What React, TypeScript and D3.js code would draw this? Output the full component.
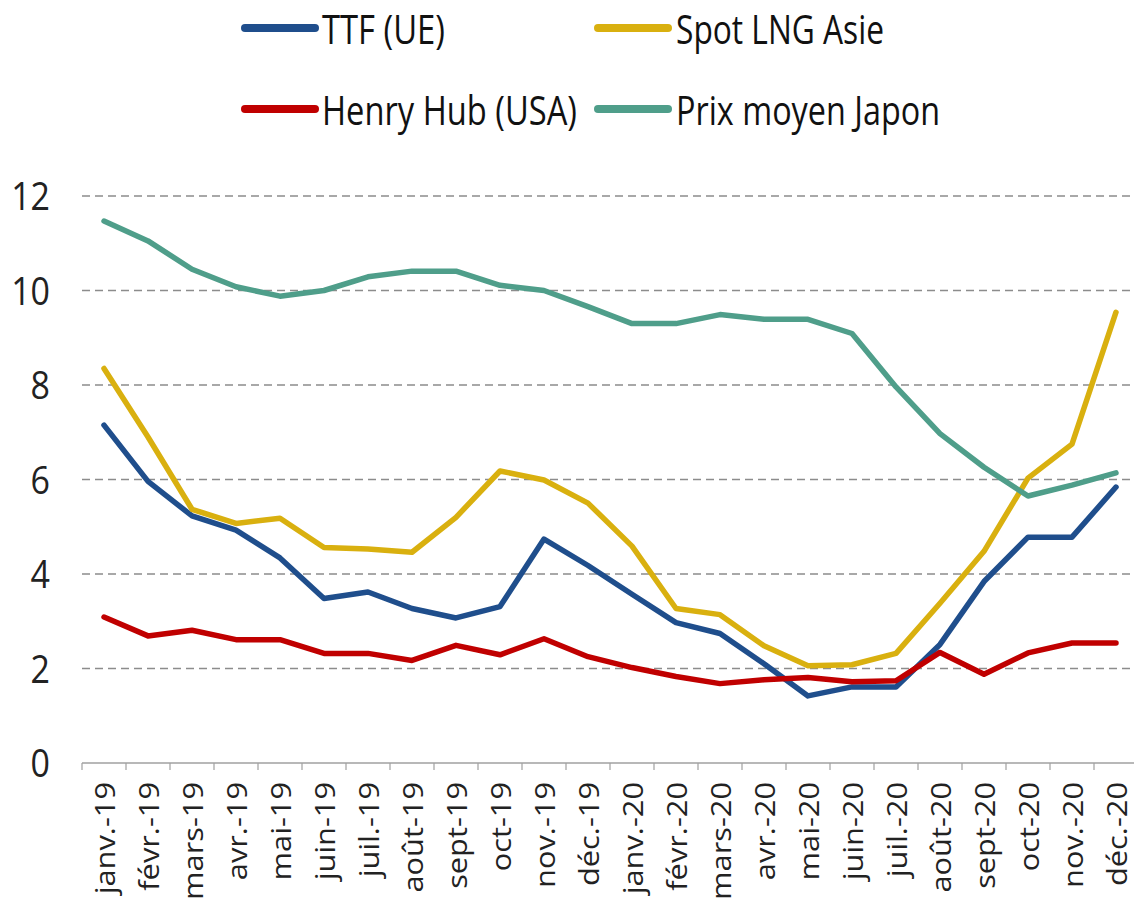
import React from 'react';
import * as d3 from 'd3';

const months = [
  'janv.-19', 'févr.-19', 'mars-19', 'avr.-19', 'mai-19', 'juin-19',
  'juil.-19', 'août-19', 'sept-19', 'oct-19', 'nov.-19', 'déc.-19',
  'janv.-20', 'févr.-20', 'mars-20', 'avr.-20', 'mai-20', 'juin-20',
  'juil.-20', 'août-20', 'sept-20', 'oct-20', 'nov.-20', 'déc.-20',
];

const ttf = [7.15, 5.96, 5.23, 4.93, 4.34, 3.48, 3.62, 3.27, 3.07, 3.31, 4.74, 4.18,
  3.57, 2.97, 2.74, 2.1, 1.42, 1.61, 1.61, 2.51, 3.84, 4.78, 4.78, 5.84];
const spotLng = [8.35, 6.9, 5.37, 5.07, 5.18, 4.56, 4.53, 4.46, 5.2, 6.18, 5.99, 5.5,
  4.59, 3.27, 3.14, 2.48, 2.06, 2.08, 2.32, 3.38, 4.48, 6.03, 6.75, 9.54];
const henryHub = [3.09, 2.69, 2.81, 2.61, 2.61, 2.32, 2.32, 2.17, 2.49, 2.29, 2.63, 2.25,
  2.02, 1.83, 1.68, 1.76, 1.81, 1.72, 1.74, 2.34, 1.88, 2.33, 2.54, 2.54];
const japon = [11.47, 11.05, 10.45, 10.08, 9.88, 10.0, 10.29, 10.41, 10.41, 10.11, 10.0, 9.66,
  9.3, 9.3, 9.49, 9.39, 9.39, 9.09, 7.96, 6.97, 6.26, 5.65, 5.88, 6.14];

const yTicks = [0, 2, 4, 6, 8, 10, 12];

const series = [
  { name: 'TTF (UE)', values: ttf, color: '#1f4e8c' },
  { name: 'Spot LNG Asie', values: spotLng, color: '#d9b00f' },
  { name: 'Henry Hub (USA)', values: henryHub, color: '#c00000' },
  { name: 'Prix moyen Japon', values: japon, color: '#4f9e8a' },
];

// legend slots: [swatch x, text x, baseline, text width]
const legendSlots = [
  [245, 322, 44, 123],
  [598, 676, 44, 208],
  [245, 322, 125, 255],
  [598, 676, 125, 264],
];

const font = '"Open Sans", sans-serif';

export default function App() {
  const width = 1134;
  const height = 907;
  const step = 44.0;

  const x = d3.scaleBand<string>().domain(months).range([82, 82 + step * months.length]);
  const y = d3.scaleLinear().domain([0, 12]).range([763, 196]);
  const cx = (m: string) => (x(m) as number) + x.bandwidth() / 2;

  const line = d3.line<number>()
    .x((_, i) => cx(months[i]))
    .y(d => y(d));

  const boundaries = d3.range(months.length + 1).map(i => 82 + i * step);

  return (
    <svg width={width} height={height} style={{ position: 'absolute', left: 0, top: 0, background: '#fff' }}>
      {/* gridlines */}
      {yTicks.filter(t => t > 0).map(t => (
        <line key={t} x1={82} x2={width} y1={y(t)} y2={y(t)}
          stroke="#8c8c8c" strokeWidth={1.6} strokeDasharray="8,5" />
      ))}
      {/* x axis */}
      <line x1={82} x2={width} y1={y(0)} y2={y(0)} stroke="#a0a0a0" strokeWidth={1.5} />
      {boundaries.map((b, i) => (
        <line key={i} x1={b} x2={b} y1={y(0)} y2={y(0) + 7} stroke="#a0a0a0" strokeWidth={1.2} />
      ))}
      {/* y tick labels */}
      {yTicks.map(t => (
        <text key={t} transform={`translate(50, ${y(t)}) scale(1, 1.15)`} dy="0.36em"
          textAnchor="end" fontFamily={font} fontSize={34} fill="#222">{t}</text>
      ))}
      {/* x tick labels */}
      {months.map(m => (
        <text key={m} transform={`translate(${cx(m)}, 782) scale(1, 1.14) rotate(-90)`} dy="0.4em"
          textAnchor="end" fontFamily={font} fontSize={27} fill="#222">{m}</text>
      ))}
      {/* series */}
      {series.map(s => (
        <path key={s.name} d={line(s.values) as string} fill="none" stroke={s.color}
          strokeWidth={5.5} strokeLinejoin="round" strokeLinecap="round" />
      ))}
      {/* legend */}
      {series.map((s, i) => {
        const [sx, tx, base, tw] = legendSlots[i];
        return (
          <g key={s.name}>
            <line x1={sx} x2={sx + 70} y1={base - 16} y2={base - 16} stroke={s.color}
              strokeWidth={8} strokeLinecap="round" />
            <text x={tx} y={base} fontFamily={font} fontSize={41} fill="#111"
              textLength={tw} lengthAdjust="spacingAndGlyphs">{s.name}</text>
          </g>
        );
      })}
    </svg>
  );
}
